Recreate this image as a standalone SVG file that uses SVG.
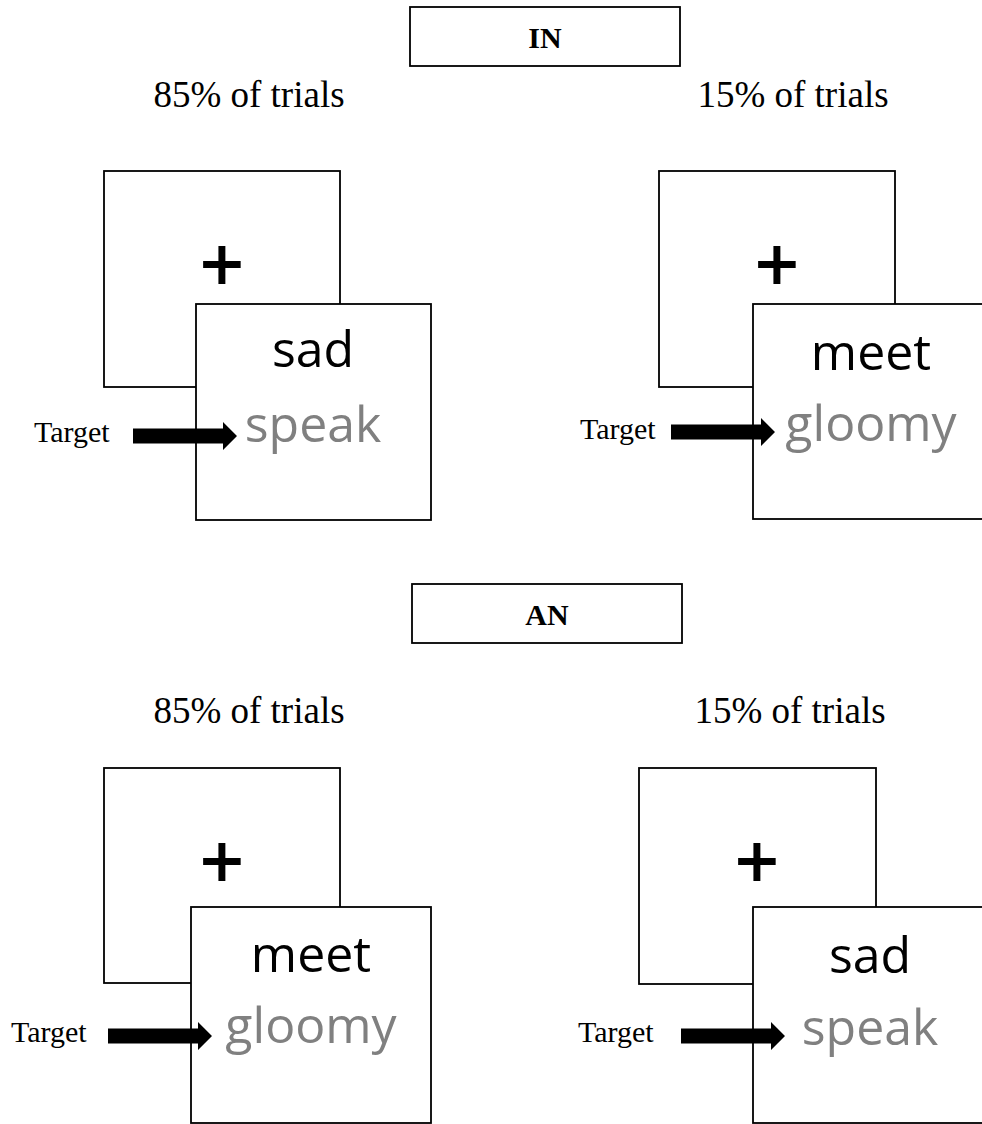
<svg xmlns="http://www.w3.org/2000/svg" width="982" height="1124" viewBox="0 0 982 1124">
<style>
.bg{fill:#fff}
.box{fill:#fff;stroke:#000;stroke-width:1.8}
.lbl{font-family:"Liberation Serif","Times New Roman",serif;font-weight:bold;font-size:30px;fill:#000;text-anchor:middle}
.pct{font-family:"Liberation Serif","Times New Roman",serif;font-size:37px;fill:#000;text-anchor:middle}
.tgt{font-family:"Liberation Serif","Times New Roman",serif;font-size:30px;fill:#000}
.plus{font-family:"DejaVu Sans",sans-serif;font-weight:bold;font-size:60px;fill:#000;text-anchor:middle}
.w1{font-family:"Open Sans","Noto Sans",sans-serif;font-size:50px;fill:#000;text-anchor:middle}
.w2{font-family:"Open Sans","Noto Sans",sans-serif;font-size:50px;fill:#808080;text-anchor:middle}
.arr{fill:#000}
</style>
<defs>
<path id="blockArrow" d="M0,-7.5 H90 V-14 L104,0 L90,14 V7.5 H0 Z"/>
</defs>
<rect class="bg" x="0" y="0" width="982" height="1124"/>

<g id="label-IN">
<rect class="box" x="410" y="7" width="270" height="59"/>
<text class="lbl" x="545" y="48">IN</text>
</g>
<g id="label-IN-85">
<text class="pct" x="249" y="107">85% of trials</text>
</g>
<g id="label-IN-15">
<text class="pct" x="793" y="107">15% of trials</text>
</g>

<g id="IN-85-fixation">
<rect class="box" x="104" y="171" width="236" height="216"/>
<text class="plus" x="222" y="284">+</text>
</g>
<g id="IN-85-stimulus">
<rect class="box" x="196" y="304" width="235" height="216"/>
<text class="w1" x="313" y="367">sad</text>
<text class="w2" x="313" y="442">speak</text>
</g>
<g id="IN-85-target">
<text class="tgt" x="34" y="442">Target</text>
</g>

<g id="IN-15-fixation">
<rect class="box" x="659" y="171" width="236" height="216"/>
<text class="plus" x="777" y="284">+</text>
</g>
<g id="IN-15-stimulus">
<rect class="box" x="753" y="304" width="236" height="215"/>
<text class="w1" x="871" y="370">meet</text>
<text class="w2" x="871" y="441">gloomy</text>
</g>
<g id="IN-15-target">
<text class="tgt" x="580" y="439">Target</text>
</g>

<g id="label-AN">
<rect class="box" x="412" y="584" width="270" height="59"/>
<text class="lbl" x="547" y="625">AN</text>
</g>
<g id="label-AN-85">
<text class="pct" x="249" y="723">85% of trials</text>
</g>
<g id="label-AN-15">
<text class="pct" x="790" y="723">15% of trials</text>
</g>

<g id="AN-85-fixation">
<rect class="box" x="104" y="768" width="236" height="215"/>
<text class="plus" x="222" y="881">+</text>
</g>
<g id="AN-85-stimulus">
<rect class="box" x="191" y="907" width="240" height="216"/>
<text class="w1" x="311" y="972">meet</text>
<text class="w2" x="311" y="1043">gloomy</text>
</g>
<g id="AN-85-target">
<text class="tgt" x="11" y="1042">Target</text>
</g>

<g id="AN-15-fixation">
<rect class="box" x="639" y="768" width="237" height="216"/>
<text class="plus" x="757" y="881">+</text>
</g>
<g id="AN-15-stimulus">
<rect class="box" x="753" y="907" width="236" height="216"/>
<text class="w1" x="870" y="973">sad</text>
<text class="w2" x="870" y="1045">speak</text>
</g>
<g id="AN-15-target">
<text class="tgt" x="578" y="1042">Target</text>
</g>

<g id="connectors">
<use class="arr" href="#blockArrow" x="133" y="436"/>
<use class="arr" href="#blockArrow" x="671" y="432"/>
<use class="arr" href="#blockArrow" x="108" y="1036"/>
<use class="arr" href="#blockArrow" x="681" y="1036"/>
</g>
</svg>
